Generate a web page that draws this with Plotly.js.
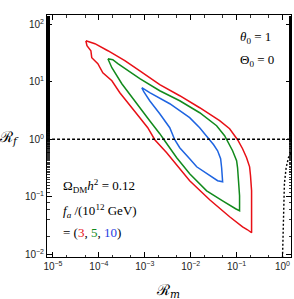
<!DOCTYPE html>
<html>
<head>
<meta charset="utf-8">
<script src="https://cdn.plot.ly/plotly-3.0.1.min.js"></script>
<style>html,body{margin:0;padding:0;background:#fff;}#chart{width:294px;height:299px;}</style>
</head>
<body>
<div id="chart"></div>
<script>
// Contour for f_a = 3e12 GeV (red)
const redX = [5.2e-5, 8.2e-5, 1.57e-4, 3.67e-4, 7.8e-4, 2.12e-3, 5.77e-3, 0.0157, 0.0427, 0.0705, 0.105, 0.135, 0.165, 0.192, 0.201, 0.212, 0.212, 0.212, 0.212,
              0.173, 0.135, 0.0705, 0.0259, 9.5e-3, 5.2e-3, 3.0e-3, 1.65e-3, 1.16e-3, 7.8e-4, 4.27e-4, 2.86e-4, 1.92e-4, 1.22e-4, 9.5e-5, 7.0e-5, 6.7e-5, 5.5e-5, 5.2e-5];
const redY = [51.6, 45.8, 34.6, 23.2, 15.5, 8.87, 5.71, 3.53, 2.10, 1.52, 0.98, 0.684, 0.477, 0.332, 0.232, 0.127, 0.0644, 0.0383, 0.0237,
              0.0267, 0.0301, 0.0449, 0.0887, 0.190, 0.346, 0.582, 0.98, 1.585, 2.37, 4.31, 6.44, 10.4, 14.3, 20.6, 26.1, 34.6, 42.3, 51.6];
// Contour for f_a = 5e12 GeV (green)
const greenX = [1.57e-4, 2.01e-4, 2.59e-4, 4.72e-4, 7.8e-4, 2.12e-3, 5.77e-3, 0.0157, 0.0367, 0.0548, 0.0606, 0.0818, 0.1, 0.105, 0.110, 0.116, 0.116,
                0.0951, 0.0496, 0.0223, 9.5e-3, 4.96e-3, 2.72e-3, 2.12e-3, 1.28e-3, 7.8e-4, 5.2e-4, 3.16e-4, 1.92e-4, 1.57e-4];
const greenY = [25.1, 24.1, 20.6, 14.9, 11.3, 6.97, 4.67, 2.89, 1.72, 1.15, 0.98, 0.631, 0.423, 0.319, 0.190, 0.104, 0.0571,
                0.0619, 0.0852, 0.127, 0.251, 0.477, 0.942, 1.25, 2.10, 3.53, 5.27, 9.23, 17.5, 25.1];
// Contour for f_a = 10e12 GeV (blue)
const blueX = [8.6e-4, 1.28e-3, 3.5e-3, 9.5e-3, 0.0157, 0.0223, 0.0259, 0.0316, 0.0386, 0.0449, 0.0472, 0.0496, 0.0496,
               0.0386, 0.0223, 0.0135, 9.5e-3, 5.77e-3, 4.49e-3, 3.5e-3, 2.12e-3, 1.28e-3, 9.5e-4, 8.6e-4];
const blueY = [7.87, 6.44, 4.14, 2.37, 1.585, 1.15, 0.98, 0.802, 0.631, 0.458, 0.319, 0.232, 0.182,
               0.190, 0.251, 0.332, 0.458, 0.711, 0.98, 1.585, 2.78, 4.67, 6.70, 7.87];
// Reference lines (black dotted)
const hLineX = [1e-6, 10];
const hLineY = [1, 1];
const edgeX = [1.0, 1.05, 1.1, 1.2, 1.35, 1.55, 1.9];
const edgeY = [0.0087, 0.043, 0.17, 0.32, 0.48, 0.58, 0.68];

const xTickVals = [1e-5, 1e-4, 1e-3, 1e-2, 1e-1, 1];
const xTickText = ['10<sup>−5</sup>', '10<sup>−4</sup>', '10<sup>−3</sup>', '10<sup>−2</sup>', '10<sup>−1</sup>', '10<sup>0</sup>'];
const yTickVals = [1e-2, 1e-1, 1, 10, 100];
const yTickText = ['10<sup>−2</sup>', '10<sup>−1</sup>', '10<sup>0</sup>', '10<sup>1</sup>', '10<sup>2</sup>'];

const lw = 1.5;
const traces = [
  {x: redX, y: redY, mode: 'lines', line: {color: 'rgb(232,16,22)', width: lw}},
  {x: greenX, y: greenY, mode: 'lines', line: {color: 'rgb(18,138,28)', width: lw}},
  {x: blueX, y: blueY, mode: 'lines', line: {color: 'rgb(30,100,225)', width: lw}},
  {x: hLineX, y: hLineY, mode: 'lines', line: {color: '#000', width: 1.4, dash: '3px,2px'}},
  {x: edgeX, y: edgeY, mode: 'lines', line: {color: '#000', width: 1.4, dash: '2px,2px'}}
];

const axisCommon = {
  type: 'log',
  showgrid: false,
  zeroline: false,
  showline: true,
  linecolor: '#000',
  linewidth: 1,
  mirror: 'allticks',
  ticks: 'inside',
  ticklen: 5,
  tickwidth: 1,
  tickcolor: '#000',
  tickfont: {family: 'Liberation Sans, Arial, sans-serif', size: 10, color: '#222'},
  minor: {ticks: 'inside', ticklen: 2.5, tickwidth: 0.8, tickcolor: '#000', showgrid: false}
};

const layout = {
  width: 294, height: 299,
  margin: {l: 47, r: 2.5, t: 15, b: 42},
  paper_bgcolor: '#fff', plot_bgcolor: '#fff',
  showlegend: false,
  xaxis: Object.assign({}, axisCommon, {range: [-5.13, 0.185], tickmode: 'array', tickvals: xTickVals, ticktext: xTickText}),
  yaxis: Object.assign({}, axisCommon, {range: [-2.047, 2.16], tickmode: 'array', tickvals: yTickVals, ticktext: yTickText}),
  annotations: [
    {xref: 'paper', yref: 'paper', x: 0.855, y: 0.905, showarrow: false, xanchor: 'center', yanchor: 'middle',
     text: '<i>θ</i><sub>0</sub> = 1', font: {family: 'Liberation Serif, Times New Roman, serif', size: 13, color: '#000'}},
    {xref: 'paper', yref: 'paper', x: 0.86, y: 0.814, showarrow: false, xanchor: 'center', yanchor: 'middle',
     text: 'Θ<sub>0</sub> = 0', font: {family: 'Liberation Serif, Times New Roman, serif', size: 13, color: '#000'}},
    {xref: 'paper', yref: 'paper', x: 0.058, y: 0.293, showarrow: false, xanchor: 'left', yanchor: 'middle',
     text: 'Ω<sub>DM</sub><i>h</i><sup>2</sup> = 0.12', font: {family: 'Liberation Serif, Times New Roman, serif', size: 13, color: '#000'}},
    {xref: 'paper', yref: 'paper', x: 0.058, y: 0.19, showarrow: false, xanchor: 'left', yanchor: 'middle',
     text: '<i>f<sub>a</sub></i> /(10<sup>12</sup> GeV)', font: {family: 'Liberation Serif, Times New Roman, serif', size: 13, color: '#000'}},
    {xref: 'paper', yref: 'paper', x: 0.058, y: 0.103, showarrow: false, xanchor: 'left', yanchor: 'middle',
     text: '= (<span style="color:rgb(232,16,22)">3</span>, <span style="color:rgb(18,138,28)">5</span>, <span style="color:rgb(30,60,225)">10</span>)',
     font: {family: 'Liberation Serif, Times New Roman, serif', size: 13, color: '#000'}},
    {xref: 'paper', yref: 'paper', x: -0.155, y: 0.492, showarrow: false, xanchor: 'center', yanchor: 'middle',
     text: 'ℛ<sub><i>f</i></sub>', font: {family: 'DejaVu Serif, serif', size: 15, color: '#000'}},
    {xref: 'paper', yref: 'paper', x: 0.495, y: -0.14, showarrow: false, xanchor: 'center', yanchor: 'middle',
     text: 'ℛ<sub><i>m</i></sub>', font: {family: 'DejaVu Serif, serif', size: 15, color: '#000'}}
  ]
};

Plotly.newPlot('chart', traces, layout, {displayModeBar: false, staticPlot: true});
</script>
</body>
</html>
